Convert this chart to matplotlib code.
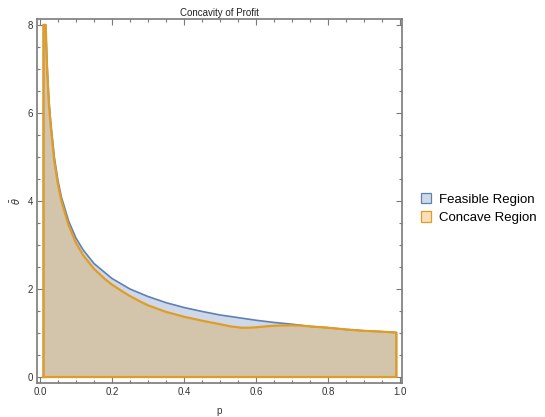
import matplotlib
matplotlib.use("Agg")
import matplotlib.pyplot as plt
import numpy as np
from matplotlib.patches import Patch
from matplotlib.ticker import FormatStrFormatter, MultipleLocator

plt.rcParams["font.family"] = ["Liberation Sans", "DejaVu Sans"]

# upper edge of the feasible region (blue)
p_feasible = [0.01, 0.016, 0.02, 0.025, 0.03, 0.04, 0.05, 0.06, 0.08, 0.10,
              0.12, 0.15, 0.20, 0.25, 0.30, 0.35, 0.40, 0.45, 0.50, 0.55,
              0.60, 0.65, 0.70, 0.75, 0.80, 0.85, 0.90, 0.95, 0.99]
theta_feasible = [8.0, 8.0, 7.1, 6.3, 5.8, 5.0, 4.47, 4.08, 3.54, 3.16,
                  2.89, 2.58, 2.24, 2.0, 1.83, 1.69, 1.58, 1.49, 1.41, 1.35,
                  1.29, 1.24, 1.20, 1.15, 1.12, 1.08, 1.05, 1.03, 1.01]

# upper edge of the concave region (orange)
p_concave = [0.01, 0.016, 0.02, 0.025, 0.03, 0.04, 0.05, 0.06, 0.08, 0.10,
             0.12, 0.15, 0.18, 0.20, 0.23, 0.25, 0.28, 0.30, 0.33, 0.35,
             0.40, 0.45, 0.50, 0.53, 0.56, 0.58, 0.60, 0.62, 0.65, 0.67,
             0.70, 0.72, 0.75, 0.80, 0.85, 0.90, 0.95, 0.99]
theta_concave = [8.0, 8.0, 7.0, 6.2, 5.7, 4.9, 4.38, 3.99, 3.44, 3.05,
                 2.77, 2.46, 2.23, 2.10, 1.94, 1.84, 1.71, 1.63, 1.54, 1.48,
                 1.37, 1.28, 1.20, 1.15, 1.12, 1.12, 1.13, 1.145, 1.165, 1.17,
                 1.175, 1.17, 1.15, 1.12, 1.08, 1.05, 1.03, 1.01]

blue = "#5E81B5"
orange = "#E19C24"
frame = "#7a7a7a"


def region(p, theta):
    xs = np.concatenate([[p[0]], p, [p[-1], p[0]]])
    ys = np.concatenate([[0.0], theta, [0.0, 0.0]])
    return xs, ys


fig = plt.figure(figsize=(5.45, 4.17), dpi=100)
ax = fig.add_axes([0.0679, 0.0815, 0.6697, 0.8737])

xb, yb = region(p_feasible, theta_feasible)
xo, yo = region(p_concave, theta_concave)
ax.fill(xb, yb, color=blue, alpha=0.3, lw=0, zorder=2)
ax.plot(xb, yb, color=blue, lw=1.2, zorder=3, solid_joinstyle="round")
ax.fill(xo, yo, color=orange, alpha=0.3, lw=0, zorder=4)
ax.plot(xo, yo, color=orange, lw=1.6, zorder=5, solid_joinstyle="round")

ax.set_xlim(-0.008, 1.0056)
ax.set_ylim(-0.136, 8.14)
ax.xaxis.set_major_locator(MultipleLocator(0.2))
ax.xaxis.set_minor_locator(MultipleLocator(0.05))
ax.yaxis.set_major_locator(MultipleLocator(2))
ax.yaxis.set_minor_locator(MultipleLocator(0.5))
ax.xaxis.set_major_formatter(FormatStrFormatter("%.1f"))
ax.tick_params(which="both", direction="in", top=True, right=True,
               color=frame, labelcolor="#333333", labelsize=7, width=0.8)
ax.tick_params(which="major", length=4.5, pad=3)
ax.tick_params(which="minor", length=2.5)
for s in ax.spines.values():
    s.set_color(frame)
    s.set_linewidth(1.2)

ax.set_title("Concavity of Profit", fontsize=7, pad=2, color="#222222")
ax.set_xlabel("p", fontsize=7, color="#333333", labelpad=6)
ax.set_ylabel(r"$\bar{\theta}$", fontsize=7, color="#333333", labelpad=3)

handles = [Patch(facecolor=(0.81, 0.855, 0.915), edgecolor=blue, lw=0.9),
           Patch(facecolor=(0.98, 0.88, 0.72), edgecolor=orange, lw=0.9)]
fig.legend(handles, ["Feasible Region", "Concave Region"], loc="center left",
           bbox_to_anchor=(0.762, 0.5), frameon=False, fontsize=9.5,
           handlelength=0.8, handleheight=0.8, handletextpad=0.6,
           labelspacing=0.45, borderaxespad=0)

fig.savefig("out.png", dpi=100)
plt.close(fig)
